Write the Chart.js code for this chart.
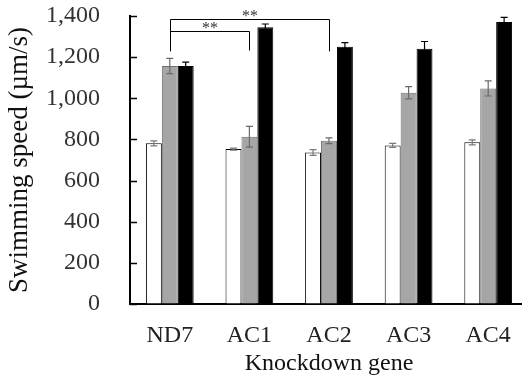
<!DOCTYPE html>
<html>
<head>
<meta charset="utf-8">
<script src="https://cdn.jsdelivr.net/npm/chart.js@4.4.1/dist/chart.umd.min.js"></script>
<style>
html,body{margin:0;padding:0;background:#fff;overflow:hidden;}
#wrap{width:528px;height:380px;}
</style>
</head>
<body>
<div id="wrap"><canvas id="c" width="528" height="380"></canvas></div>
<script>
// ---- data ----
const categories = ["ND7", "AC1", "AC2", "AC3", "AC4"];
const whiteValues = [781, 753, 736, 771, 786];
const whiteErrors = [12, 5, 14, 10, 12];
const grayValues = [1157, 813, 794, 1027, 1048];
const grayErrors = [37, 50, 14, 30, 37];
const blackValues = [1157, 1345, 1251, 1241, 1371];
const blackErrors = [19, 16, 20, 35, 22];
const yTicks = [0, 200, 400, 600, 800, 1000, 1200, 1400];
// significance brackets
const bracketFrom = [0, 0];
const bracketTo = [1, 2];
const bracketLevel = [1329, 1384];
const bracketFoot = [1232, 1228];
const bracketLabel = ["**", "**"];

const FONT = "'Liberation Serif', 'Times New Roman', serif";

const errorBarPlugin = {
  id: 'errorBars',
  afterDatasetsDraw(chart) {
    const ctx = chart.ctx;
    const y = chart.scales.y;
    const errs = [whiteErrors, grayErrors, blackErrors];
    const cols = ['#7a7a7a', '#6a6a6a', '#000000'];
    ctx.save();
    chart.data.datasets.forEach((ds, di) => {
      const meta = chart.getDatasetMeta(di);
      meta.data.forEach((bar, i) => {
        const v = ds.data[i], e = errs[di][i];
        const yt = y.getPixelForValue(v + e);
        const yb = y.getPixelForValue(v - e);
        ctx.strokeStyle = cols[di];
        ctx.lineWidth = 1.2;
        ctx.beginPath();
        ctx.moveTo(bar.x, yt); ctx.lineTo(bar.x, yb);
        ctx.moveTo(bar.x - 3.5, yt); ctx.lineTo(bar.x + 3.5, yt);
        ctx.moveTo(bar.x - 3.5, yb); ctx.lineTo(bar.x + 3.5, yb);
        ctx.stroke();
      });
    });
    ctx.restore();
  }
};

const bracketPlugin = {
  id: 'brackets',
  afterDraw(chart) {
    const ctx = chart.ctx;
    const y = chart.scales.y;
    const meta = chart.getDatasetMeta(1);
    ctx.save();
    ctx.strokeStyle = '#000';
    ctx.lineWidth = 1;
    ctx.fillStyle = '#333';
    ctx.font = '16px ' + FONT;
    ctx.textAlign = 'center';
    ctx.textBaseline = 'middle';
    bracketFrom.forEach((f, k) => {
      const x1 = Math.round(meta.data[f].x) + 0.5;
      const x2 = Math.round(meta.data[bracketTo[k]].x) + 0.5;
      const yl = Math.round(y.getPixelForValue(bracketLevel[k])) + 0.5;
      const yf = y.getPixelForValue(bracketFoot[k]);
      ctx.beginPath();
      ctx.moveTo(x1, yf); ctx.lineTo(x1, yl); ctx.lineTo(x2, yl); ctx.lineTo(x2, yf);
      ctx.stroke();
      ctx.fillText(bracketLabel[k], (x1 + x2) / 2, yl - 3);
    });
    ctx.restore();
  }
};

const innerTicksPlugin = {
  id: 'innerTicks',
  afterDraw(chart) {
    const ctx = chart.ctx;
    const y = chart.scales.y;
    const left = chart.chartArea.left;
    ctx.save();
    ctx.strokeStyle = '#000';
    ctx.lineWidth = 1.5;
    yTicks.forEach(t => {
      const py = Math.round(y.getPixelForValue(t)) + 0.5;
      ctx.beginPath();
      ctx.moveTo(left, py); ctx.lineTo(left + 7, py);
      ctx.stroke();
    });
    ctx.restore();
  }
};

new Chart(document.getElementById('c'), {
  type: 'bar',
  data: {
    labels: categories,
    datasets: [
      { data: whiteValues, backgroundColor: '#ffffff', borderColor: '#000000', borderWidth: 1 },
      { data: grayValues, backgroundColor: '#a6a6a6', borderColor: '#707070', borderWidth: 1 },
      { data: blackValues, backgroundColor: '#000000', borderColor: '#000000', borderWidth: 1 }
    ]
  },
  options: {
    responsive: false,
    animation: false,
    devicePixelRatio: 1,
    categoryPercentage: 0.6,
    barPercentage: 1.0,
    layout: { padding: { top: 16, right: 0, left: 0, bottom: 0 } },
    plugins: { legend: { display: false }, tooltip: { enabled: false } },
    scales: {
      x: {
        grid: { display: false, drawTicks: false },
        border: { display: true, color: '#000', width: 2 },
        ticks: { color: '#222', font: { family: FONT, size: 24 }, padding: 17 },
        title: { display: true, text: 'Knockdown gene', color: '#111', font: { family: FONT, size: 24 }, padding: { top: 0, bottom: 2 } },
        afterFit(s) { s.height = 76; s.paddingLeft = 0; s.paddingRight = 0; }
      },
      y: {
        min: 0, max: 1400,
        afterBuildTicks(s) { s.ticks = yTicks.map(v => ({ value: v })); },
        grid: { drawOnChartArea: false, drawTicks: false },
        border: { display: true, color: '#000', width: 2 },
        ticks: {
          color: '#333', font: { family: FONT, size: 24 }, padding: 30,
          callback: v => Number(v).toLocaleString('en-US')
        },
        title: { display: true, text: 'Swimming speed (µm/s)', color: '#111', font: { family: FONT, size: 27 }, padding: { top: 4, bottom: 0 } },
        afterFit(s) { s.width = 130; s.paddingTop = 0; s.paddingBottom = 0; }
      }
    }
  },
  plugins: [errorBarPlugin, innerTicksPlugin, bracketPlugin]
});
</script>
</body>
</html>
